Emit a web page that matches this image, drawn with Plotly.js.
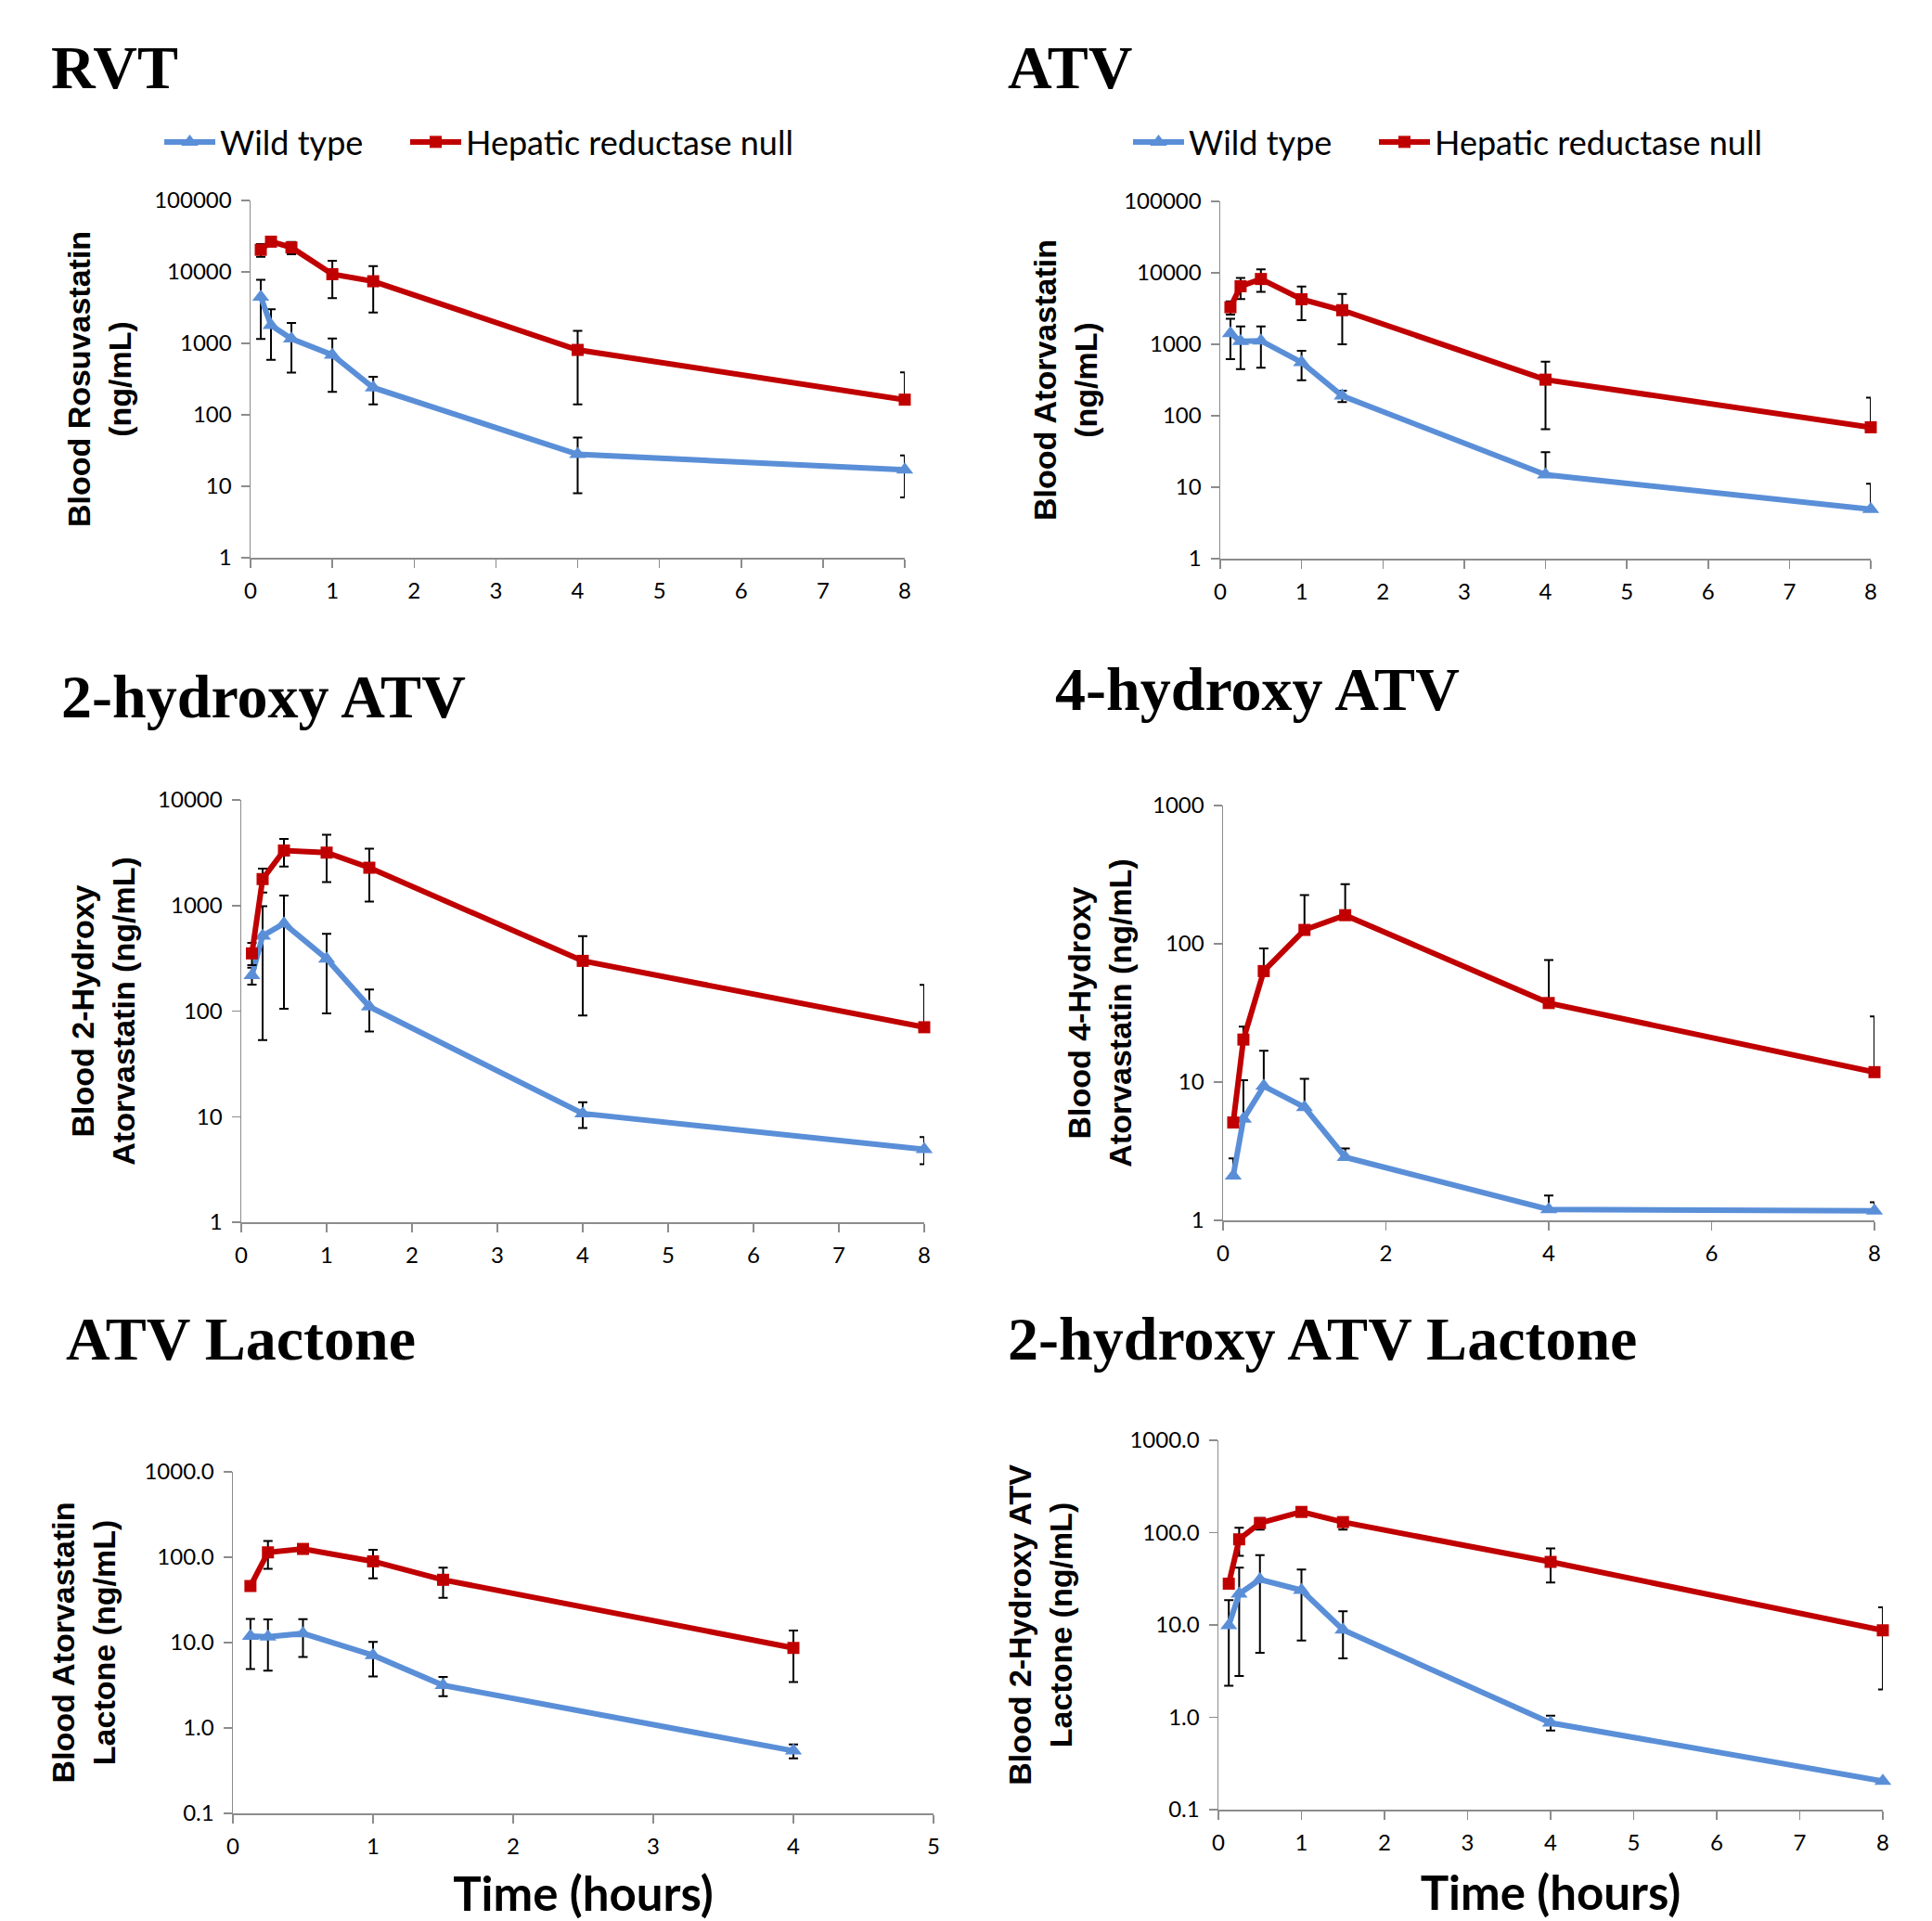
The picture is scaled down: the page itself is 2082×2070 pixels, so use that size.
<!DOCTYPE html>
<html>
<head>
<meta charset="utf-8">
<script src="https://cdn.plot.ly/plotly-3.0.1.min.js"></script>
<style>
html,body{margin:0;padding:0;background:#fff;}
#chart{width:2082px;height:2070px;}
</style>
</head>
<body>
<div id="chart"></div>
<script>
// ---------- DATA ----------
var seriesNames = ["Wild type", "Hepatic reductase null"];
var panelTitles = ["RVT", "ATV", "2-hydroxy ATV", "4-hydroxy ATV", "ATV Lactone", "2-hydroxy ATV Lactone"];
var yTitles = [
  "Blood Rosuvastatin<br>(ng/mL)",
  "Blood Atorvastatin<br>(ng/mL)",
  "Blood 2-Hydroxy<br>Atorvastatin (ng/mL)",
  "Blood 4-Hydroxy<br>Atorvastatin (ng/mL)",
  "Blood Atorvastatin<br>Lactone (ng/mL)",
  "Blood 2-Hydroxy ATV<br>Lactone (ng/mL)"
];
var xTitle = "Time (hours)";

var timeHours = [0.125, 0.25, 0.5, 1, 1.5, 4, 8];
var timeLactone = [0.125, 0.25, 0.5, 1, 1.5, 4];

// RVT
var rvtWild = [4450, 1790, 1160, 690, 240, 28, 17];
var rvtWildErrPlus = [3300, 1200, 770, 480, 100, 20, 10];
var rvtWildErrMinus = [3300, 1200, 770, 480, 100, 20, 10];
var rvtNull = [20400, 26500, 22000, 9300, 7400, 810, 163];
var rvtNullErrPlus = [4100, 2500, 4300, 5000, 4700, 690, 230];
var rvtNullErrMinus = [4100, 2500, 4300, 5000, 4700, 670, 0];

// ATV
var atvWild = [1420, 1100, 1120, 560, 190, 15, 4.9];
var atvWildErrPlus = [850, 680, 660, 250, 35, 16, 6.3];
var atvWildErrMinus = [800, 650, 650, 245, 35, 0, 0];
var atvNull = [3300, 6500, 8200, 4270, 3000, 320, 69];
var atvNullErrPlus = [700, 2000, 3000, 2150, 2050, 250, 110];
var atvNullErrMinus = [700, 2200, 2800, 2100, 2000, 255, 0];

// 2-hydroxy ATV
var oh2Wild = [218, 515, 675, 313, 110, 10.7, 4.9];
var oh2WildErrPlus = [40, 470, 570, 225, 50, 3, 1.5];
var oh2WildErrMinus = [40, 462, 570, 218, 46, 2.9, 1.35];
var oh2Null = [352, 1780, 3320, 3170, 2280, 299, 70.3];
var oh2NullErrPlus = [90, 460, 960, 1500, 1180, 214, 107];
var oh2NullErrMinus = [80, 450, 980, 1500, 1190, 208, 0];

// 4-hydroxy ATV (upper error bars only)
var oh4Wild = [2.1, 5.4, 9.35, 6.57, 2.86, 1.2, 1.17];
var oh4WildErrPlus = [0.7, 4.9, 7.5, 4, 0.45, 0.31, 0.18];
var oh4WildErrMinus = [0, 0, 0, 0, 0, 0, 0];
var oh4Null = [5.1, 20.3, 63.5, 126, 161, 37.3, 11.8];
var oh4NullErrPlus = [0.4, 4.9, 29, 99, 109, 39, 18];
var oh4NullErrMinus = [0, 0, 0, 0, 0, 0, 0];

// ATV Lactone
var lacWild = [11.9, 11.7, 12.8, 7.1, 3.16, 0.54];
var lacWildErrPlus = [7, 7, 6, 3.1, 0.8, 0.1];
var lacWildErrMinus = [7, 7, 6, 3.1, 0.8, 0.1];
var lacNull = [46, 114, 125, 89.5, 54.4, 8.66];
var lacNullErrPlus = [3, 41, 8, 33, 21, 5.2];
var lacNullErrMinus = [3, 41, 8, 33, 21, 5.2];

// 2-hydroxy ATV Lactone
var oh2LacWild = [9.9, 21.7, 31, 23.8, 8.85, 0.87, 0.204];
var oh2LacWildErrPlus = [8.7, 20, 26, 16, 5.2, 0.17, 0];
var oh2LacWildErrMinus = [7.7, 18.9, 26, 17, 4.5, 0.15, 0];
var oh2LacNull = [28, 84.6, 127, 167.5, 130, 48.2, 8.75];
var oh2LacNullErrPlus = [2, 28, 17, 8, 16, 19.3, 6.8];
var oh2LacNullErrMinus = [2, 28.6, 19, 8, 22, 19.3, 6.75];

// tick labels
var yTickVals5 = [1, 10, 100, 1000, 10000, 100000];
var yTickText5 = ["1", "10", "100", "1000", "10000", "100000"];
var yTickVals4 = [1, 10, 100, 1000, 10000];
var yTickText4 = ["1", "10", "100", "1000", "10000"];
var yTickVals3 = [1, 10, 100, 1000];
var yTickText3 = ["1", "10", "100", "1000"];
var yTickValsLac = [0.1, 1, 10, 100, 1000];
var yTickTextLac = ["0.1", "1.0", "10.0", "100.0", "1000.0"];

// ---------- STYLE ----------
var BLUE = "#5A8FD8";
var RED = "#C00000";
var tickFont = {family: "Lato, 'Open Sans', sans-serif", size: 24, color: "#000"};
var yTitleFont = {family: "'Liberation Sans', Arial, sans-serif", size: 34, color: "#000", weight: "bold"};

function mkTrace(x, y, ep, em, idx, axisNum, legendName, showLegend) {
  var isWild = idx === 0;
  return {
    type: "scatter", mode: "lines+markers",
    name: seriesNames[idx],
    x: x, y: y,
    xaxis: "x" + (axisNum === 1 ? "" : axisNum),
    yaxis: "y" + (axisNum === 1 ? "" : axisNum),
    legend: legendName,
    legendwidth: isWild ? 195 : 420,
    showlegend: showLegend,
    cliponaxis: false,
    line: {color: isWild ? BLUE : RED, width: 6},
    marker: {symbol: isWild ? "triangle-up" : "square", size: isWild ? 16 : 13, color: isWild ? BLUE : RED},
    error_y: {type: "data", symmetric: false, array: ep, arrayminus: em, color: "#000", thickness: 2, width: 5, visible: true}
  };
}

var data = [
  mkTrace(timeHours, rvtWild, rvtWildErrPlus, rvtWildErrMinus, 0, 1, "legend", true),
  mkTrace(timeHours, rvtNull, rvtNullErrPlus, rvtNullErrMinus, 1, 1, "legend", true),
  mkTrace(timeHours, atvWild, atvWildErrPlus, atvWildErrMinus, 0, 2, "legend2", true),
  mkTrace(timeHours, atvNull, atvNullErrPlus, atvNullErrMinus, 1, 2, "legend2", true),
  mkTrace(timeHours, oh2Wild, oh2WildErrPlus, oh2WildErrMinus, 0, 3, "legend", false),
  mkTrace(timeHours, oh2Null, oh2NullErrPlus, oh2NullErrMinus, 1, 3, "legend", false),
  mkTrace(timeHours, oh4Wild, oh4WildErrPlus, oh4WildErrMinus, 0, 4, "legend", false),
  mkTrace(timeHours, oh4Null, oh4NullErrPlus, oh4NullErrMinus, 1, 4, "legend", false),
  mkTrace(timeLactone, lacWild, lacWildErrPlus, lacWildErrMinus, 0, 5, "legend", false),
  mkTrace(timeLactone, lacNull, lacNullErrPlus, lacNullErrMinus, 1, 5, "legend", false),
  mkTrace(timeHours, oh2LacWild, oh2LacWildErrPlus, oh2LacWildErrMinus, 0, 6, "legend", false),
  mkTrace(timeHours, oh2LacNull, oh2LacNullErrPlus, oh2LacNullErrMinus, 1, 6, "legend", false)
];

var W = 2082, H = 2070;
function xd(a, b) { return [a / W, b / W]; }
function yd(top, bottom) { return [1 - bottom / H, 1 - top / H]; }

function xAxis(dom, anchor, rmax, dtick, withTitle) {
  var a = {
    domain: dom, anchor: anchor, range: [0, rmax], dtick: dtick, tick0: 0,
    showline: true, linecolor: "#8c8c8c", linewidth: 1.5,
    ticks: "outside", ticklen: 9, tickwidth: 1.5, tickcolor: "#8c8c8c",
    showgrid: false, zeroline: false, tickfont: tickFont, ticklabelstandoff: 5,
    fixedrange: true
  };
  if (withTitle) {
    a.title = {text: xTitle, font: {family: "Lato, sans-serif", size: 51, color: "#000", weight: "bold"}, standoff: 24};
  }
  return a;
}
function yAxis(dom, anchor, range, vals, txt, title, standoff) {
  return {
    domain: dom, anchor: anchor, type: "log", range: range,
    tickmode: "array", tickvals: vals, ticktext: txt,
    showline: true, linecolor: "#8c8c8c", linewidth: 1.5,
    ticks: "outside", ticklen: 9, tickwidth: 1.5, tickcolor: "#8c8c8c",
    showgrid: false, zeroline: false, tickfont: tickFont, ticklabelstandoff: 5,
    title: {text: title, font: yTitleFont, standoff: standoff},
    fixedrange: true
  };
}

var titleFont = {family: "'Liberation Serif', 'Times New Roman', serif", size: 66, color: "#000", weight: "bold"};
function panelTitle(txt, px, py) {
  return {text: txt, xref: "paper", yref: "paper", x: px / W, y: 1 - py / H,
          xanchor: "left", yanchor: "middle", showarrow: false, font: titleFont};
}

var legendBase = {
  orientation: "h", xanchor: "left", yanchor: "middle",
  font: {family: "Lato, sans-serif", size: 36, color: "#000"},
  itemwidth: 55, entrywidthmode: "pixels",
  bgcolor: "rgba(0,0,0,0)", traceorder: "normal"
};

var layout = {
  width: W, height: H,
  margin: {l: 0, r: 0, t: 0, b: 0},
  paper_bgcolor: "#fff", plot_bgcolor: "#fff",
  xaxis: xAxis(xd(270, 975), "y", 8, 1, false),
  yaxis: yAxis(yd(216, 601), "x", [0, 5], yTickVals5, yTickText5, yTitles[0], 14),
  xaxis2: xAxis(xd(1315, 2016), "y2", 8, 1, false),
  yaxis2: yAxis(yd(217, 602), "x2", [0, 5], yTickVals5, yTickText5, yTitles[1], 18),
  xaxis3: xAxis(xd(260, 996), "y3", 8, 1, false),
  yaxis3: yAxis(yd(862, 1317), "x3", [0, 4], yTickVals4, yTickText4, yTitles[2], 14),
  xaxis4: xAxis(xd(1318, 2020), "y4", 8, 2, false),
  yaxis4: yAxis(yd(868, 1315), "x4", [0, 3], yTickVals3, yTickText3, yTitles[3], 12),
  xaxis5: xAxis(xd(251, 1006), "y5", 5, 1, true),
  yaxis5: yAxis(yd(1586, 1954), "x5", [-1, 3], yTickValsLac, yTickTextLac, yTitles[4], 20),
  xaxis6: xAxis(xd(1313, 2029), "y6", 8, 1, true),
  yaxis6: yAxis(yd(1552, 1950), "x6", [-1, 3], yTickValsLac, yTickTextLac, yTitles[5], 51),
  legend: Object.assign({}, legendBase, {x: 172 / W, y: 1 - 153 / H}),
  legend2: Object.assign({}, legendBase, {x: 1216 / W, y: 1 - 153 / H}),
  annotations: [
    panelTitle(panelTitles[0], 53, 72),
    panelTitle(panelTitles[1], 1084, 72),
    panelTitle(panelTitles[2], 64, 750),
    panelTitle(panelTitles[3], 1135, 742),
    panelTitle(panelTitles[4], 69, 1442),
    panelTitle(panelTitles[5], 1084, 1442)
  ],
  showlegend: true
};

Plotly.newPlot("chart", data, layout, {displayModeBar: false, staticPlot: true});
</script>
</body>
</html>
